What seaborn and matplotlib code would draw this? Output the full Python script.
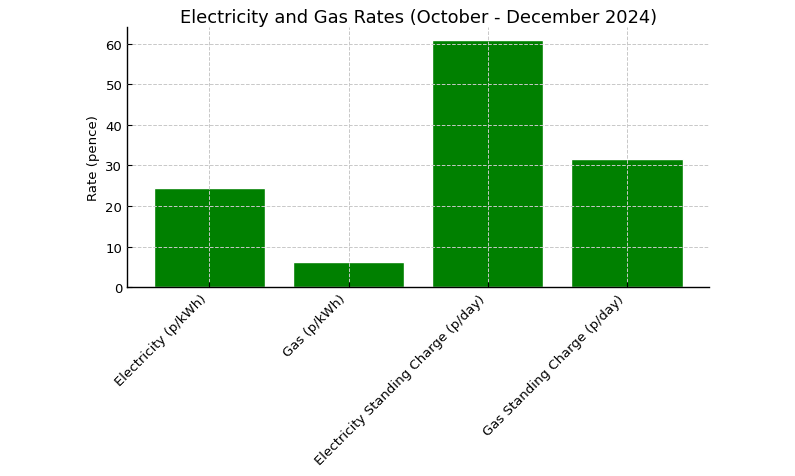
import matplotlib
matplotlib.use("Agg")
import matplotlib.pyplot as plt
import seaborn as sns
import pandas as pd

categories = ["Electricity (p/kWh)", "Gas (p/kWh)", "Electricity Standing Charge (p/day)", "Gas Standing Charge (p/day)"]
rates = [24.50, 6.24, 60.99, 31.66]

df = pd.DataFrame({"category": categories, "rate": rates})

sns.set_style("white")
plt.rcParams["font.family"] = ["DejaVu Sans"]
plt.rcParams["text.color"] = "black"
plt.rcParams["axes.labelcolor"] = "black"
plt.rcParams["xtick.color"] = "black"
plt.rcParams["ytick.color"] = "black"

fig = plt.figure(figsize=(7.95, 4.77), dpi=100)
ax = fig.add_axes([0.160, 0.396, 0.732, 0.545])
sns.barplot(data=df, x="category", y="rate", color="green", saturation=1, width=0.8, ax=ax)
ax.set_xlim(-0.59, 3.59)
ax.set_ylim(0, 64.05)
ax.set_yticks([0, 10, 20, 30, 40, 50, 60])
ax.grid(True, linestyle="--", color="#c8c8c8", linewidth=0.7)
ax.set_axisbelow(False)
for s in ["top", "right"]:
    ax.spines[s].set_visible(False)
for s in ["left", "bottom"]:
    ax.spines[s].set_color("black")
    ax.spines[s].set_linewidth(1.0)
ax.tick_params(axis="both", which="both", direction="in", length=3.5, width=0.8,
               color="black", labelcolor="black", labelsize=9.5, bottom=True, left=True)
plt.setp(ax.get_xticklabels(), rotation=45, ha="right", rotation_mode="default")
ax.set_xlabel("")
ax.set_ylabel("Rate (pence)", fontsize=9.5, color="black")
ax.set_title("Electricity and Gas Rates (October - December 2024)", fontsize=12.9, color="black", pad=4)
fig.savefig("out.png", dpi=100)
